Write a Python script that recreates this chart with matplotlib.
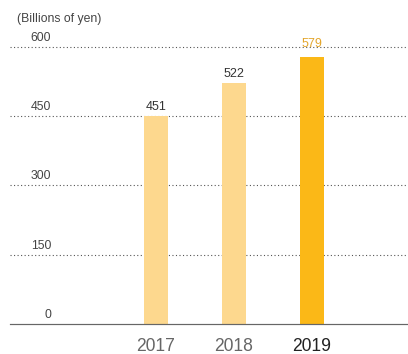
import matplotlib
matplotlib.use("Agg")
import matplotlib.pyplot as plt

years = ["2017", "2018", "2019"]
values = [451, 522, 579]
yticks = [0, 150, 300, 450, 600]
unit_label = "(Billions of yen)"

light = "#FDD88E"
strong = "#FBB817"
bar_colors = [light, light, strong]
value_colors = ["#333333", "#333333", "#E3A52A"]
year_colors = ["#666666", "#666666", "#222222"]
value_offsets = [6, 6, 10]

plt.rcParams["font.family"] = ["Liberation Sans", "DejaVu Sans"]

W, H, DPI = 408, 354, 72
fig = plt.figure(figsize=(W / DPI, H / DPI), dpi=DPI)
ax = fig.add_axes([10 / W, 30 / H, 398 / W, 324 / H])

x = list(range(len(years)))
ax.bar(x, values, width=0.308, color=bar_colors, zorder=3)

ax.set_xlim(-1.872, 3.231)
ax.set_ylim(0, 701.8)

for t in yticks:
    if t == 0:
        ax.axhline(0, color="#666666", lw=1.2, zorder=4, clip_on=False)
    else:
        ax.axhline(t, color="#555555", lw=1.1, linestyle=(0, (1, 2.2)), zorder=2)
    ax.annotate(str(t), xy=(0, t), xycoords=("axes fraction", "data"),
                xytext=(41, 6), textcoords="offset points",
                ha="right", va="baseline", fontsize=12.3, color="#444444")

for xi, v, c, off in zip(x, values, value_colors, value_offsets):
    ax.annotate(str(v), xy=(xi, v), xytext=(0, off), textcoords="offset points",
                ha="center", va="baseline", fontsize=12.5, color=c)

for xi, yr, c in zip(x, years, year_colors):
    ax.annotate(yr, xy=(xi, 0), xytext=(0, -27), textcoords="offset points",
                ha="center", va="baseline", fontsize=17.5, color=c)

fig.text(17 / W, 1 - 22 / H, unit_label, ha="left", va="baseline",
         fontsize=12.3, color="#444444")

for s in ax.spines.values():
    s.set_visible(False)
ax.set_xticks([])
ax.set_yticks([])

fig.savefig("out.png", dpi=DPI)
